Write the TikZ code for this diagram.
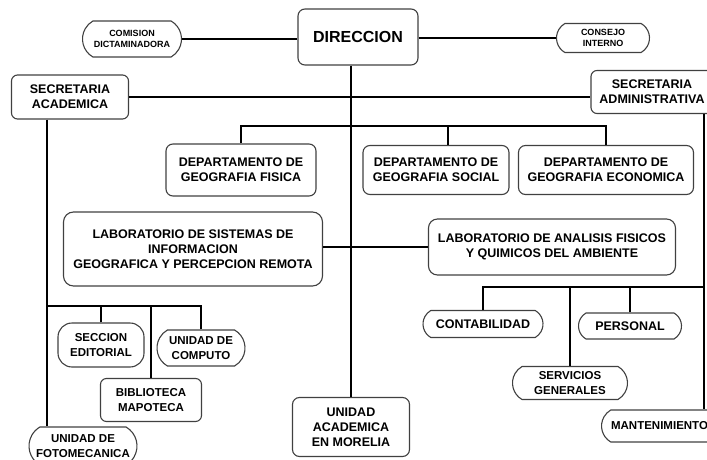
\documentclass[tikz,border=0pt]{standalone}
\usepackage{fontspec}
\setmainfont{Liberation Sans}
\usetikzlibrary{shapes.misc}

\begin{document}
\begin{tikzpicture}[x=1pt, y=-1pt, line width=2pt,
    box/.style={draw=black!75, line width=1.1pt, rounded corners=7pt, align=center, inner sep=0pt,
        font=\bfseries\fontsize{12.5}{15}\selectfont},
    pill/.style={draw=black!75, line width=1.1pt, rounded rectangle, rounded rectangle arc length=120,
        align=center, inner sep=0pt, font=\bfseries\fontsize{12.5}{15}\selectfont},
    small/.style={font=\bfseries\fontsize{9}{11}\selectfont},
    mid/.style={font=\bfseries\fontsize{11.5}{15}\selectfont}]
\useasboundingbox (0,0) rectangle (707,460);

\node[box, minimum width=120pt, minimum height=56pt, font=\bfseries\fontsize{16}{19}\selectfont] (dir) at (358,37) {DIRECCION};
\node[pill, small, minimum width=99pt, minimum height=36pt] (com) at (132,39) {COMISION\\DICTAMINADORA};
\node[pill, small, minimum width=93pt, minimum height=29pt] (cons) at (603,38) {CONSEJO\\INTERNO};
\node[box, rounded corners=6pt, minimum width=117pt, minimum height=44pt] (sacad) at (70,97) {SECRETARIA\\ACADEMICA};
\node[box, rounded corners=6pt, minimum width=122pt, minimum height=43pt] (sadm) at (652,92) {SECRETARIA\\ADMINISTRATIVA};

% departamentos
\node[box, minimum width=150pt, minimum height=52pt] (dfis) at (241,170) {DEPARTAMENTO DE\\GEOGRAFIA FISICA};
\node[box, minimum width=146pt, minimum height=49pt] (dsoc) at (436,170) {DEPARTAMENTO DE\\GEOGRAFIA SOCIAL};
\node[box, minimum width=175pt, minimum height=49pt] (deco) at (606,170) {DEPARTAMENTO DE\\GEOGRAFIA ECONOMICA};

% laboratorios
\node[box, rounded corners=10pt, minimum width=259pt, minimum height=74pt] (lsig) at (193,249) {LABORATORIO DE SISTEMAS DE\\INFORMACION\\GEOGRAFICA Y PERCEPCION REMOTA};
\node[box, rounded corners=9pt, minimum width=247pt, minimum height=56pt] (lafq) at (552,247) {LABORATORIO DE ANALISIS FISICOS\\Y QUIMICOS DEL AMBIENTE};

% unidades
\node[box, mid, rounded corners=14pt, minimum width=86pt, minimum height=44pt] (sed) at (101,345) {SECCION\\EDITORIAL};
\node[pill, mid, minimum width=88pt, minimum height=36pt] (ucom) at (201,348) {UNIDAD DE\\COMPUTO};
\node[box, mid, rounded corners=6pt, minimum width=101pt, minimum height=43pt] (bib) at (151,400) {BIBLIOTECA\\MAPOTECA};
\node[pill, mid, minimum width=108pt, minimum height=38pt] (ufot) at (83,446) {UNIDAD DE\\FOTOMECANICA};
\node[box, minimum width=117pt, minimum height=59pt] (uam) at (351,427) {UNIDAD\\ACADEMICA\\EN MORELIA};
\node[pill, minimum width=120pt, minimum height=27pt] (cont) at (483,324) {CONTABILIDAD};
\node[pill, minimum width=103pt, minimum height=26pt] (pers) at (630,326) {PERSONAL};
\node[pill, mid, minimum width=115pt, minimum height=33pt] (serv) at (570,383) {SERVICIOS\\GENERALES};
\node[pill, mid, minimum width=116pt, minimum height=32pt, anchor=west] (mant) at (601,426) {MANTENIMIENTO};

% lineas
\draw (com.east) -- (com.east -| dir.west);
\draw (cons.west -| dir.east) -- (cons.west);
\draw (uam.north |- dir.south) -- (uam.north);
\draw (sacad.east) -- (sacad.east -| sadm.west);

\coordinate (jd) at (351,126);
\draw (dfis.north) |- (jd) -| (deco.north);
\draw ([xshift=12pt]dsoc.north) -- ([xshift=12pt]dsoc.north |- jd);

\draw (lsig.east |- lafq.west) -- (lafq.west);

\coordinate (ja) at (47,306);
\draw (ja |- sacad.south) -- (ja |- ufot.north);
\draw (ucom.north) |- (ja);
\foreach \n in {sed,bib}
{
    \draw (\n.north) -- (\n.north |- ja);
}

\coordinate (jr) at (704,287);
\draw (jr |- sadm.south) -- (jr |- mant.north);
\draw (cont.north) |- (jr);
\foreach \n in {serv,pers}
{
    \draw (\n.north) -- (\n.north |- jr);
}

\end{tikzpicture}
\end{document}
